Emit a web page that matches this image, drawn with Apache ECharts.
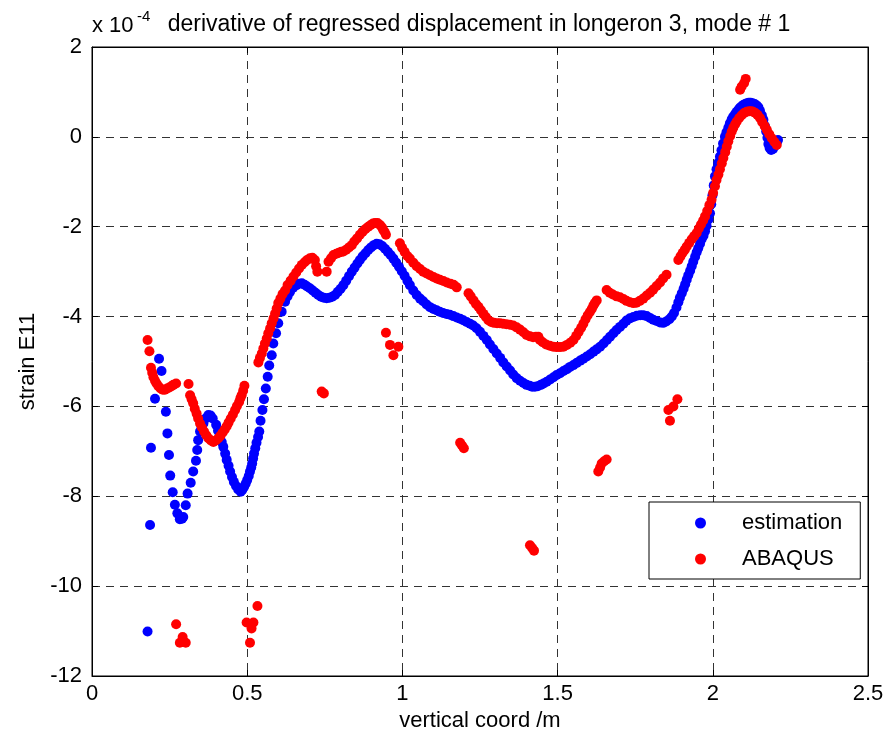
<!DOCTYPE html>
<html>
<head>
<meta charset="utf-8">
<script src="https://cdn.jsdelivr.net/npm/echarts@6/dist/echarts.min.js"></script>
<style>
  html, body { margin: 0; padding: 0; background: #fff; }
  #chart { width: 892px; height: 742px; }
</style>
</head>
<body>
<div id="chart"></div>
<script>
// values, strain in units of 1e-4
const estimationPts = [
  [0.179,-11.01],
  [0.187,-8.64],[0.19,-6.92],[0.203,-5.83],[0.216,-4.94],[0.224,-5.21],[0.238,-6.12],[0.243,-6.6],[0.248,-7.08],
  [0.252,-7.54],[0.26,-7.91],[0.267,-8.19],[0.275,-8.38],[0.283,-8.51],[0.29,-8.5],[0.294,-8.46],[0.302,-8.2],
  [0.308,-7.94],[0.318,-7.7],[0.326,-7.45],[0.335,-7.21],[0.339,-6.97],[0.342,-6.75],[0.348,-6.56],[0.353,-6.46],
  [0.359,-6.38],[0.366,-6.27],[0.375,-6.19],[0.382,-6.2],[0.389,-6.27],[0.4,-6.41],[0.406,-6.54],[0.412,-6.67],
  [0.418,-6.79],[0.423,-6.9],[0.429,-7.05],[0.434,-7.19],[0.44,-7.32],[0.445,-7.45],[0.451,-7.57],[0.457,-7.68],
  [0.464,-7.77],[0.471,-7.85],[0.479,-7.9],[0.484,-7.86],[0.49,-7.79],[0.495,-7.72],[0.5,-7.64],[0.505,-7.55],
  [0.509,-7.45],[0.513,-7.36],[0.516,-7.27],[0.519,-7.16],[0.522,-7.05],[0.526,-6.93],[0.53,-6.81],[0.535,-6.68],
  [0.539,-6.56],[0.543,-6.32],[0.549,-6.08],[0.554,-5.84],[0.56,-5.6],[0.566,-5.34],[0.571,-5.09],[0.579,-4.86],
  [0.584,-4.6],[0.593,-4.37],[0.6,-4.15],[0.611,-3.89],[0.622,-3.67],[0.63,-3.55],[0.638,-3.45],[0.648,-3.36],
  [0.659,-3.3],[0.667,-3.27],[0.676,-3.26],[0.685,-3.29],[0.693,-3.33],[0.702,-3.37],[0.711,-3.42],[0.72,-3.47],
  [0.729,-3.52],[0.738,-3.56],[0.747,-3.58],[0.756,-3.59],[0.765,-3.58],[0.774,-3.56],[0.783,-3.52],[0.792,-3.45],
  [0.801,-3.38],[0.81,-3.3],[0.819,-3.2],[0.828,-3.1],[0.837,-3.0],[0.846,-2.91],[0.855,-2.82],[0.863,-2.74],
  [0.872,-2.66],[0.881,-2.59],[0.89,-2.52],[0.899,-2.46],[0.908,-2.41],[0.917,-2.38],[0.926,-2.39],[0.935,-2.43],
  [0.944,-2.49],[0.953,-2.56],[0.962,-2.63],[0.971,-2.71],[0.98,-2.8],[0.989,-2.89],[0.998,-2.99],[1.007,-3.09],
  [1.016,-3.2],[1.024,-3.3],[1.035,-3.42],[1.046,-3.52],[1.057,-3.6],[1.067,-3.66],[1.078,-3.73],[1.089,-3.79],
  [1.1,-3.83],[1.11,-3.86],[1.12,-3.89],[1.131,-3.92],[1.142,-3.94],[1.153,-3.96],[1.164,-3.99],[1.175,-4.02],
  [1.186,-4.05],[1.196,-4.08],[1.207,-4.12],[1.218,-4.16],[1.228,-4.2],[1.239,-4.26],[1.25,-4.34],[1.261,-4.43],
  [1.272,-4.52],[1.282,-4.62],[1.293,-4.72],[1.304,-4.82],[1.315,-4.92],[1.325,-5.02],[1.336,-5.11],[1.347,-5.2],
  [1.357,-5.29],[1.368,-5.37],[1.379,-5.43],[1.39,-5.48],[1.4,-5.52],[1.41,-5.54],[1.418,-5.56],[1.427,-5.56],
  [1.436,-5.55],[1.446,-5.52],[1.455,-5.49],[1.465,-5.45],[1.476,-5.4],[1.487,-5.35],[1.497,-5.3],[1.508,-5.26],
  [1.519,-5.21],[1.53,-5.17],[1.54,-5.12],[1.551,-5.08],[1.562,-5.03],[1.573,-4.98],[1.583,-4.94],[1.594,-4.89],
  [1.605,-4.84],[1.616,-4.78],[1.626,-4.73],[1.637,-4.67],[1.648,-4.6],[1.659,-4.52],[1.669,-4.45],[1.68,-4.37],
  [1.69,-4.3],[1.701,-4.23],[1.712,-4.16],[1.722,-4.09],[1.733,-4.04],[1.744,-4.01],[1.755,-3.98],[1.766,-3.97],
  [1.776,-3.97],[1.787,-3.99],[1.798,-4.03],[1.808,-4.07],[1.819,-4.1],[1.83,-4.13],[1.84,-4.14],[1.85,-4.11],
  [1.86,-4.06],[1.868,-4.0],[1.875,-3.92],[1.883,-3.8],[1.889,-3.68],[1.894,-3.58],[1.9,-3.48],[1.906,-3.38],
  [1.911,-3.28],[1.916,-3.18],[1.921,-3.08],[1.927,-2.98],[1.932,-2.88],[1.937,-2.78],[1.943,-2.67],[1.948,-2.57],
  [1.953,-2.48],[1.959,-2.38],[1.964,-2.28],[1.97,-2.2],[1.975,-2.1],[1.98,-1.98],[1.986,-1.84],[1.991,-1.7],
  [1.995,-1.5],[1.999,-1.3],[2.003,-1.08],[2.007,-0.88],[2.012,-0.72],[2.017,-0.58],[2.023,-0.44],[2.028,-0.3],
  [2.033,-0.15],[2.039,0.0],[2.044,0.1],[2.05,0.2],[2.055,0.3],[2.061,0.39],[2.066,0.45],[2.072,0.51],
  [2.077,0.56],[2.083,0.61],[2.088,0.65],[2.093,0.68],[2.098,0.71],[2.104,0.73],[2.11,0.75],[2.116,0.76],
  [2.122,0.76],[2.128,0.75],[2.135,0.73],[2.141,0.7],[2.147,0.66],[2.152,0.58],[2.158,0.48],[2.163,0.38],
  [2.168,0.24],[2.172,0.12],[2.176,-0.02],[2.179,-0.16],[2.183,-0.25],[2.188,-0.29],[2.194,-0.27],[2.2,-0.2],
  [2.206,-0.12],[2.21,-0.07]
];

const abaqusPts = [
  [0.271,-10.85],[0.283,-11.26],[0.292,-11.13],[0.302,-11.26],
  [0.498,-10.81],[0.509,-11.26],[0.514,-10.94],[0.52,-10.81],[0.533,-10.44],
  [0.179,-4.52],[0.185,-4.77],[0.19,-5.14],[0.194,-5.25],[0.198,-5.35],[0.203,-5.43],[0.208,-5.49],[0.214,-5.55],
  [0.221,-5.6],[0.228,-5.63],[0.235,-5.63],[0.242,-5.6],[0.249,-5.58],[0.256,-5.55],[0.262,-5.52],[0.271,-5.49],
  [0.311,-5.5],[0.316,-5.75],[0.321,-5.84],[0.326,-5.93],[0.331,-6.05],[0.337,-6.16],[0.342,-6.27],[0.348,-6.38],
  [0.354,-6.47],[0.361,-6.56],[0.368,-6.64],[0.375,-6.71],[0.383,-6.76],[0.391,-6.79],[0.399,-6.76],[0.407,-6.71],
  [0.414,-6.65],[0.421,-6.58],[0.428,-6.51],[0.434,-6.44],[0.44,-6.36],[0.447,-6.27],[0.454,-6.18],[0.461,-6.08],
  [0.467,-5.99],[0.474,-5.9],[0.478,-5.82],[0.482,-5.75],[0.487,-5.65],[0.491,-5.54],
  [0.536,-5.02],[0.541,-4.92],[0.547,-4.82],[0.552,-4.71],[0.557,-4.6],[0.563,-4.49],[0.568,-4.37],[0.574,-4.26],
  [0.579,-4.15],[0.585,-4.04],[0.59,-3.93],[0.595,-3.82],[0.6,-3.7],[0.607,-3.6],[0.614,-3.5],[0.622,-3.42],
  [0.63,-3.3],[0.64,-3.2],[0.649,-3.11],[0.658,-3.02],[0.667,-2.93],[0.676,-2.85],[0.685,-2.79],[0.693,-2.74],
  [0.702,-2.7],[0.71,-2.69],[0.718,-2.74],[0.722,-2.88],[0.726,-3.0],
  [0.756,-3.0],[0.762,-2.78],[0.77,-2.7],[0.778,-2.63],[0.787,-2.6],[0.795,-2.58],[0.803,-2.56],[0.81,-2.55],
  [0.819,-2.51],[0.828,-2.46],[0.837,-2.41],[0.845,-2.33],[0.854,-2.26],[0.863,-2.18],[0.872,-2.11],[0.881,-2.05],
  [0.89,-2.0],[0.898,-1.96],[0.905,-1.93],[0.912,-1.92],[0.92,-1.92],[0.928,-1.96],[0.934,-2.01],[0.938,-2.07],
  [0.943,-2.12],[0.947,-2.18],
  [0.74,-5.67],[0.747,-5.71],
  [0.947,-4.36],[0.96,-4.63],[0.971,-4.86],[0.987,-4.67],
  [0.992,-2.37],[0.999,-2.47],[1.007,-2.56],[1.016,-2.65],[1.024,-2.71],[1.035,-2.8],[1.046,-2.88],[1.057,-2.94],
  [1.067,-3.0],[1.078,-3.04],[1.089,-3.08],[1.1,-3.12],[1.11,-3.15],[1.121,-3.18],[1.132,-3.21],[1.143,-3.24],
  [1.155,-3.27],[1.165,-3.29],[1.175,-3.35],
  [1.186,-6.81],[1.192,-6.87],[1.198,-6.93],
  [1.213,-3.48],[1.22,-3.55],[1.229,-3.64],[1.237,-3.72],[1.245,-3.78],[1.253,-3.86],[1.261,-3.94],[1.269,-4.01],
  [1.277,-4.08],[1.286,-4.12],[1.295,-4.14],[1.305,-4.15],[1.314,-4.15],[1.324,-4.16],[1.335,-4.17],[1.346,-4.18],
  [1.357,-4.2],[1.368,-4.24],[1.379,-4.29],[1.39,-4.35],[1.4,-4.41],[1.411,-4.44],[1.421,-4.46],[1.43,-4.45],
  [1.438,-4.45],[1.443,-4.52],[1.452,-4.57],[1.463,-4.62],[1.475,-4.65],[1.486,-4.67],[1.497,-4.68],[1.508,-4.68],
  [1.519,-4.67],[1.53,-4.63],[1.541,-4.58],[1.551,-4.52],[1.56,-4.43],[1.568,-4.34],[1.576,-4.25],[1.583,-4.16],
  [1.59,-4.06],[1.597,-3.97],[1.604,-3.9],[1.61,-3.83],[1.615,-3.76],[1.62,-3.7],[1.626,-3.64],
  [1.411,-9.09],[1.418,-9.15],[1.424,-9.21],
  [1.631,-7.45],[1.637,-7.36],[1.642,-7.27],[1.65,-7.22],[1.658,-7.18],
  [1.658,-3.41],[1.668,-3.47],[1.678,-3.51],[1.69,-3.55],[1.701,-3.57],[1.712,-3.61],[1.722,-3.65],[1.733,-3.68],
  [1.744,-3.7],[1.754,-3.69],[1.765,-3.65],[1.776,-3.6],[1.787,-3.53],[1.798,-3.47],[1.808,-3.4],[1.819,-3.32],
  [1.83,-3.24],[1.84,-3.15],[1.851,-3.07],
  [1.857,-6.08],[1.862,-6.32],[1.873,-6.0],[1.886,-5.84],
  [1.889,-2.74],[1.896,-2.66],[1.903,-2.58],[1.91,-2.51],[1.916,-2.44],[1.924,-2.36],[1.932,-2.28],[1.94,-2.21],
  [1.948,-2.14],[1.955,-2.04],[1.962,-1.95],[1.969,-1.86],[1.975,-1.77],[1.982,-1.65],[1.989,-1.52],[1.996,-1.4],
  [2.001,-1.25],[2.007,-1.1],[2.012,-0.96],[2.018,-0.84],[2.023,-0.72],[2.029,-0.59],[2.034,-0.47],[2.04,-0.34],
  [2.045,-0.22],[2.05,-0.1],[2.056,0.02],[2.061,0.12],[2.066,0.2],[2.072,0.28],[2.077,0.34],[2.085,0.42],
  [2.093,0.48],[2.101,0.53],[2.109,0.56],[2.117,0.57],[2.124,0.57],[2.13,0.56],[2.137,0.53],[2.144,0.49],
  [2.152,0.42],[2.159,0.33],[2.167,0.24],[2.174,0.16],[2.182,0.06],[2.19,-0.03],[2.198,-0.11],[2.206,-0.18],
  [2.088,1.05],[2.093,1.12],[2.101,1.2],[2.106,1.29]
];

const seriesNames = ['estimation', 'ABAQUS'];
const titleText = 'derivative of regressed displacement in longeron 3, mode # 1';
const xTicks = { min: 0, max: 2.5, interval: 0.5 };
const yTicks = { min: -12, max: 2, interval: 2 };

const FONT = '"Liberation Sans", Arial, Helvetica, sans-serif';
const chart = echarts.init(document.getElementById('chart'));

const gridDash = { show: true, lineStyle: { color: '#333', width: 1, type: [8, 6] } };
const tickIn = { show: true, inside: true, length: 6, lineStyle: { color: '#000' } };
const blackLine = { show: true, onZero: false, lineStyle: { color: '#000', width: 1 } };

chart.setOption({
  animation: false,
  backgroundColor: '#fff',
  textStyle: { fontFamily: FONT },
  graphic: [
    { type: 'text', x: 479, y: 13, style: { text: titleText, textAlign: 'center', font: '23px ' + FONT, fill: '#000' } },
    { type: 'text', x: 92, y: 15, style: { text: 'x 10', font: '22px ' + FONT, fill: '#000' } },
    { type: 'text', x: 137, y: 9, style: { text: '-4', font: '15px ' + FONT, fill: '#000' } }
  ],
  grid: { left: 92, right: 24, top: 47, bottom: 66, show: true, borderColor: '#000', borderWidth: 1 },
  legend: {
    orient: 'vertical',
    left: 649, top: 502,
    padding: [10, 18, 9, 46],
    itemWidth: 11, itemHeight: 11, itemGap: 14,
    borderColor: '#000', borderWidth: 1, backgroundColor: '#fff',
    textStyle: { fontSize: 22, color: '#000', fontFamily: FONT, lineHeight: 22, padding: [0, 0, 0, 31] },
    data: seriesNames.map(n => ({ name: n, icon: 'circle' }))
  },
  xAxis: [{
    type: 'value', ...xTicks,
    name: 'vertical coord /m', nameLocation: 'middle', nameGap: 33,
    nameTextStyle: { fontSize: 22, color: '#000' },
    axisLine: blackLine, axisTick: tickIn,
    axisLabel: { fontSize: 22, color: '#000', margin: 7 },
    splitLine: gridDash
  }, {
    type: 'value', ...xTicks, position: 'top',
    axisLine: blackLine, axisTick: tickIn, axisLabel: { show: false }, splitLine: { show: false }
  }],
  yAxis: [{
    type: 'value', ...yTicks,
    name: 'strain E11', nameLocation: 'middle', nameGap: 38,
    nameTextStyle: { fontSize: 22, color: '#000' },
    axisLine: blackLine, axisTick: tickIn,
    axisLabel: { fontSize: 22, color: '#000', margin: 10 },
    splitLine: gridDash
  }, {
    type: 'value', ...yTicks, position: 'right',
    axisLine: blackLine, axisTick: tickIn, axisLabel: { show: false }, splitLine: { show: false }
  }],
  series: [
    { name: seriesNames[0], type: 'scatter', data: estimationPts, symbolSize: 10, itemStyle: { color: '#0000ff', opacity: 1 } },
    { name: seriesNames[1], type: 'scatter', data: abaqusPts, symbolSize: 10, itemStyle: { color: '#ff0000', opacity: 1 } }
  ]
});
</script>
</body>
</html>
